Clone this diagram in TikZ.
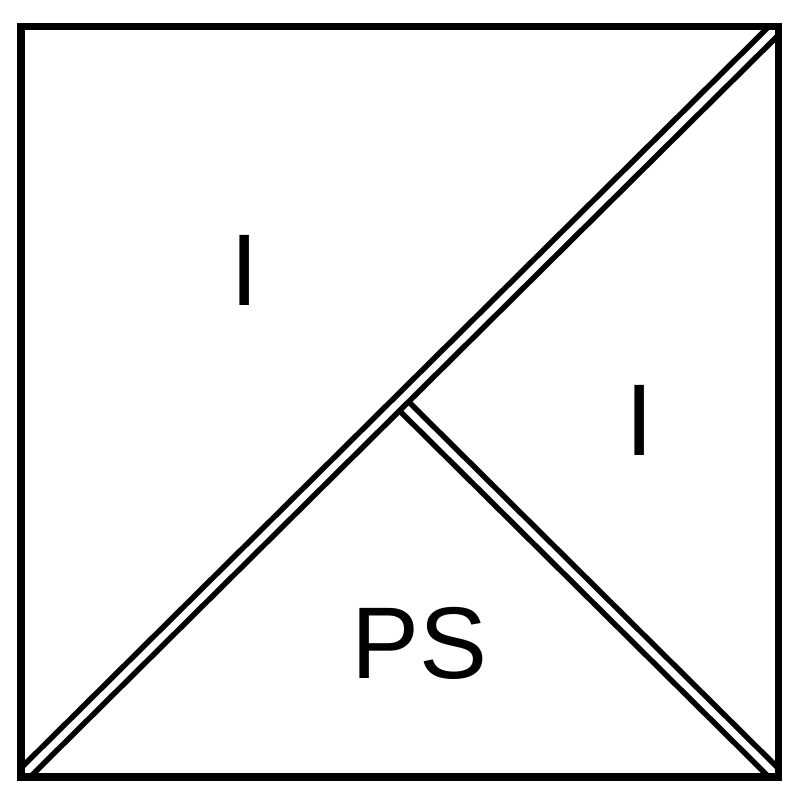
\documentclass[tikz,border=0pt]{standalone}
\usepackage{fontspec}
\setmainfont{Liberation Sans}
\usetikzlibrary{positioning, calc}

\tikzset{
  wall/.style={line width=1.6pt, double=white, double distance=2pt},
  region/.style={font=\fontsize{29}{31}\selectfont, inner sep=0pt}
}

\begin{document}
\begin{tikzpicture}
    \useasboundingbox (0,0) rectangle (8,8);
    \coordinate (bl) at (0.21,0.23);
    \coordinate (br) at (7.78,0.23);
    \coordinate (tr) at (7.78,7.735);
    \coordinate (tl) at (0.21,7.735);
    \coordinate (mid) at ($(bl)!0.5!(tr)$);
    % walls inside the square
    \begin{scope}
        \clip (bl) rectangle (tr);
        \draw[wall] (mid) -- (br);
        \draw[wall] (bl) -- (tr);
    \end{scope}
    \draw[line width=2pt] (bl) rectangle (tr);
    % labels
    \node[region] (upper) at (2.45,5.30) {I};
    \node[region] (right) at (6.40,3.80) {I};
    \node[region] (lower) at (4.19,1.57) {PS};
\end{tikzpicture}
\end{document}
